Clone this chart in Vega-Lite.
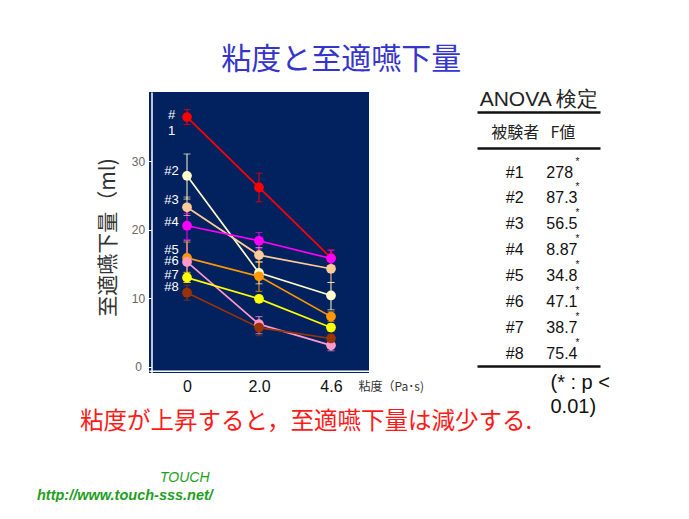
{
  "$schema": "https://vega.github.io/schema/vega-lite/v6.json",
  "background": "white",
  "padding": {"left": 37, "top": 45, "right": 0, "bottom": 0},
  "config": {"view": {"stroke": null}, "font": "Noto Sans CJK JP"},
  "datasets": {
    "pts": [
      {"s": "#1", "x": "0", "v": 36.5, "lo": 35.4, "hi": 37.6},
      {"s": "#1", "x": "2.0", "v": 26.2, "lo": 24.1, "hi": 28.3},
      {"s": "#1", "x": "4.6", "v": 15.9, "lo": 14.8, "hi": 17.1},
      {"s": "#2", "x": "0", "v": 27.9, "lo": 24.5, "hi": 31.1},
      {"s": "#2", "x": "2.0", "v": 13.7, "lo": 12.1, "hi": 15.3},
      {"s": "#2", "x": "4.6", "v": 10.4, "lo": 8.3, "hi": 12.3},
      {"s": "#3", "x": "0", "v": 23.3, "lo": 22.1, "hi": 24.8},
      {"s": "#3", "x": "2.0", "v": 16.3, "lo": 15.3, "hi": 17.4},
      {"s": "#3", "x": "4.6", "v": 14.3, "lo": 12.3, "hi": 15.5},
      {"s": "#4", "x": "0", "v": 20.6, "lo": 18.6, "hi": 22.4},
      {"s": "#4", "x": "2.0", "v": 18.4, "lo": 17.2, "hi": 19.6},
      {"s": "#4", "x": "4.6", "v": 15.8, "lo": 14.8, "hi": 17.0},
      {"s": "#5", "x": "0", "v": 15.9, "lo": 13.8, "hi": 18.2},
      {"s": "#5", "x": "2.0", "v": 13.2, "lo": 11.0, "hi": 15.3},
      {"s": "#5", "x": "4.6", "v": 7.3, "lo": 6.6, "hi": 8.0},
      {"s": "#6", "x": "0", "v": 15.3, "lo": 12.3, "hi": 18.4},
      {"s": "#6", "x": "2.0", "v": 6.2, "lo": 4.8, "hi": 7.3},
      {"s": "#6", "x": "4.6", "v": 3.1, "lo": 2.3, "hi": 3.8},
      {"s": "#7", "x": "0", "v": 13.0, "lo": 12.3, "hi": 13.7},
      {"s": "#7", "x": "2.0", "v": 9.9, "lo": 9.4, "hi": 10.4},
      {"s": "#7", "x": "4.6", "v": 5.7, "lo": 5.2, "hi": 6.2},
      {"s": "#8", "x": "0", "v": 10.8, "lo": 9.7, "hi": 11.9},
      {"s": "#8", "x": "2.0", "v": 5.7, "lo": 4.5, "hi": 6.7},
      {"s": "#8", "x": "4.6", "v": 4.1, "lo": 3.6, "hi": 4.6}
    ],
    "labels": [
      {"s": "#1", "t": "#\n1", "ly": 36.8},
      {"s": "#2", "t": "#2", "ly": 28.6},
      {"s": "#3", "t": "#3", "ly": 24.4},
      {"s": "#4", "t": "#4", "ly": 21.1},
      {"s": "#5", "t": "#5", "ly": 17.1},
      {"s": "#6", "t": "#6", "ly": 15.5},
      {"s": "#7", "t": "#7", "ly": 13.4},
      {"s": "#8", "t": "#8", "ly": 11.6}
    ],
    "anova": [
      {"s": "#1", "F": "278"},
      {"s": "#2", "F": "87.3"},
      {"s": "#3", "F": "56.5"},
      {"s": "#4", "F": "8.87"},
      {"s": "#5", "F": "34.8"},
      {"s": "#6", "F": "47.1"},
      {"s": "#7", "F": "38.7"},
      {"s": "#8", "F": "75.4"}
    ]
  },
  "title": {"text": "http://www.touch-sss.net/", "orient": "bottom", "anchor": "start", "frame": "group", "font": "Liberation Sans", "fontSize": 14.5, "fontStyle": "italic", "fontWeight": "bold", "color": "#1E9E1E", "dx": -112, "offset": 4},
  "vconcat": [
    {
      "title": {"text": "TOUCH", "orient": "bottom", "anchor": "start", "frame": "group", "font": "Liberation Sans", "fontSize": 14, "fontStyle": "italic", "fontWeight": "normal", "color": "#1E9E1E", "dx": 11, "offset": 37},
      "vconcat": [
        {
          "title": {"text": "粘度が上昇すると，至適嚥下量は減少する.", "orient": "bottom", "anchor": "start", "frame": "group", "font": "Noto Sans CJK JP", "fontSize": 23.5, "fontWeight": "normal", "color": "#FF1A1A", "dx": -69, "offset": -6},
          "vconcat": [
            {
              "title": {"text": "粘度と至適嚥下量", "orient": "top", "anchor": "middle", "font": "Noto Sans CJK JP", "fontSize": 30, "fontWeight": "normal", "color": "#3535CC", "dx": -12, "offset": 13},
              "bounds": "flush",
              "spacing": 108,
              "hconcat": [
                {
                  "width": 220,
                  "height": 281,
                  "view": {"fill": "#02215F", "stroke": null},
                  "encoding": {
                    "x": {"field": "x", "type": "ordinal", "scale": {"type": "point", "domain": ["0", "2.0", "4.6"], "padding": 0.528},
                      "axis": {"orient": "bottom", "offset": -2.3, "domainColor": "white", "domainWidth": 1.5, "ticks": false, "labelAngle": 0, "labelFont": "Liberation Sans", "labelFontSize": 16, "labelColor": "#111", "labelPadding": 8,
                        "title": "粘度（Pa･s)", "titleFont": "Noto Sans CJK JP", "titleFontSize": 12, "titleFontWeight": "normal", "titleColor": "#333", "titleX": 209, "titleY": 16, "titleAlign": "left", "titleBaseline": "middle"}},
                    "color": {"field": "s", "type": "nominal", "scale": {"domain": ["#1", "#2", "#3", "#4", "#5", "#6", "#7", "#8"], "range": ["#FF0000", "#FFFFCC", "#FFCC99", "#FF00FF", "#FF9900", "#FF99CC", "#FFFF00", "#993300"]}, "legend": null}
                  },
                  "layer": [
                    {
                      "data": {"name": "pts"},
                      "mark": {"type": "rule", "strokeWidth": 1},
                      "encoding": {
                        "y": {"field": "lo", "type": "quantitative", "scale": {"domain": [-0.95, 40.17], "nice": false, "zero": false},
                          "axis": {"orient": "left", "offset": -2.5, "values": [0, 10, 20, 30], "grid": false, "domainColor": "white", "domainWidth": 1.5, "tickColor": "white", "tickSize": 3, "labelFont": "Liberation Sans", "labelFontSize": 12, "labelColor": "#666", "labelAlign": "center", "labelPadding": 10.5,
                            "title": "至適嚥下量（ml)", "titleFont": "Noto Sans CJK JP", "titleFontSize": 21, "titleFontWeight": "normal", "titleColor": "#333", "titleAngle": -90, "titleX": -43.5, "titleY": 145, "titleAlign": "center", "titleBaseline": "middle"}},
                        "y2": {"field": "hi"}
                      }
                    },
                    {
                      "data": {"name": "pts"},
                      "mark": {"type": "tick", "size": 7, "thickness": 1, "orient": "horizontal"},
                      "encoding": {"y": {"field": "lo", "type": "quantitative"}}
                    },
                    {
                      "data": {"name": "pts"},
                      "mark": {"type": "tick", "size": 7, "thickness": 1, "orient": "horizontal"},
                      "encoding": {"y": {"field": "hi", "type": "quantitative"}}
                    },
                    {
                      "data": {"name": "pts"},
                      "mark": {"type": "line", "strokeWidth": 1.7},
                      "encoding": {"y": {"field": "v", "type": "quantitative"}}
                    },
                    {
                      "data": {"name": "pts"},
                      "mark": {"type": "circle", "size": 95, "opacity": 1},
                      "encoding": {"y": {"field": "v", "type": "quantitative"}}
                    },
                    {
                      "data": {"name": "labels"},
                      "mark": {"type": "text", "color": "white", "font": "Liberation Sans", "fontSize": 13, "align": "center", "baseline": "middle", "dx": -15.5, "lineBreak": "\n", "lineHeight": 16},
                      "encoding": {
                        "x": {"datum": "0", "type": "ordinal"},
                        "y": {"field": "ly", "type": "quantitative"},
                        "text": {"field": "t", "type": "nominal"},
                        "color": {"value": "white"}
                      }
                    }
                  ]
                },
                {
                  "width": 123,
                  "height": 274,
                  "data": {"name": "anova"},
                  "resolve": {"scale": {"x": "independent"}, "axis": {"x": "independent"}},
                  "encoding": {
                    "y": {"field": "s", "type": "nominal", "scale": {"type": "point", "domain": ["#1", "#2", "#3", "#4", "#5", "#6", "#7", "#8"], "range": [80.5, 261.5], "padding": 0}, "axis": null}
                  },
                  "layer": [
                    {
                      "mark": {"type": "text", "font": "Liberation Sans", "fontSize": 16, "color": "#111", "align": "center", "baseline": "middle"},
                      "encoding": {
                        "x": {"datum": "被験者", "type": "nominal", "scale": {"type": "point", "domain": ["被験者", "F値"], "padding": 0.79},
                          "axis": {"orient": "top", "offset": -56, "domainColor": "#111", "domainWidth": 2.5, "ticks": false, "labelAngle": 0, "labelFont": "Noto Sans CJK JP", "labelFontSize": 16, "labelColor": "#222", "labelPadding": 8, "title": null}},
                        "text": {"field": "s", "type": "nominal"}
                      }
                    },
                    {
                      "mark": {"type": "text", "font": "Liberation Sans", "fontSize": 16, "color": "#111", "align": "left", "baseline": "middle", "dx": -16},
                      "encoding": {
                        "x": {"datum": "F値", "type": "nominal", "scale": {"type": "point", "domain": ["被験者", "F値"], "padding": 0.79},
                          "axis": {"orient": "top", "offset": -20, "domainColor": "#111", "domainWidth": 2.5, "ticks": false, "labels": false,
                            "title": "ANOVA 検定", "titleFont": "Liberation Sans", "titleFontSize": 21, "titleFontWeight": "normal", "titleColor": "#222", "titlePadding": 3}},
                        "text": {"field": "F", "type": "nominal"}
                      }
                    },
                    {
                      "mark": {"type": "text", "font": "Liberation Sans", "fontSize": 10, "color": "#111", "align": "center", "baseline": "middle", "dx": 15, "dy": -11, "text": "*"},
                      "encoding": {
                        "x": {"datum": "F値", "type": "nominal", "scale": {"type": "point", "domain": ["被験者", "F値"], "padding": 0.79},
                          "axis": {"orient": "bottom", "offset": 0, "domainColor": "#111", "domainWidth": 2.5, "ticks": false, "labels": false,
                            "title": ["(* : p <", "0.01)"], "titleFont": "Liberation Sans", "titleFontSize": 20, "titleFontWeight": "normal", "titleColor": "#111", "titleLineHeight": 24, "titleX": 73, "titleY": 6, "titleAlign": "left", "titleBaseline": "top"}}
                      }
                    }
                  ]
                }
              ]
            }
          ]
        }
      ]
    }
  ]
}
